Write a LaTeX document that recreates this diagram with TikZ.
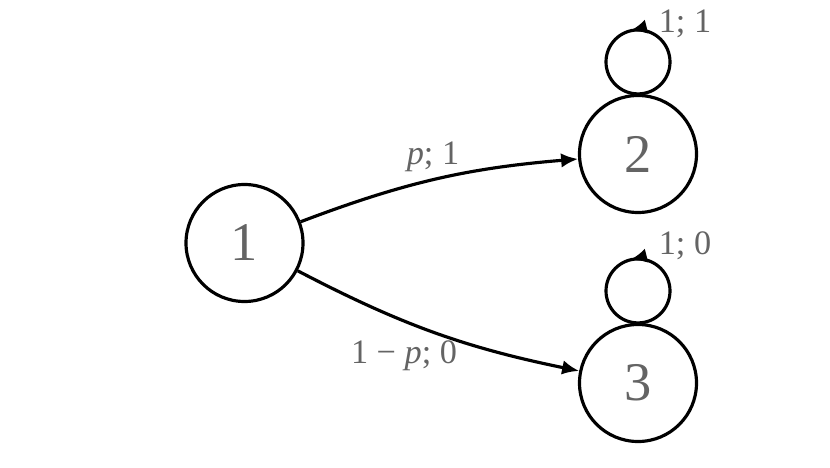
\documentclass[tikz,border=0pt]{standalone}
\usepackage{fontspec}
\setmainfont{Liberation Serif}
\usepackage{xcolor}
\usepackage{tikz}
\usetikzlibrary{arrows.meta,decorations.markings}
\definecolor{txtgray}{RGB}{100,100,100}
\begin{document}
\begin{tikzpicture}[
    state/.style={draw,circle,line width=1.8pt,minimum size=2.34cm,inner sep=0pt,
        text=txtgray,font=\fontsize{31}{31}\selectfont},
    lbl/.style={text=txtgray,font=\fontsize{19.5}{20}\selectfont},
    tr/.style={line width=1.8pt,-{Latex[length=3.4mm,width=2.9mm]}},
    selfloop/.style={line width=1.8pt,decoration={markings,
        mark=at position 0.54 with {\arrow{Latex[length=3.4mm,width=2.9mm]}}},postaction={decorate}}]
                \useasboundingbox (0,0) rectangle (16.6,9.34);
                % states
                \node[state] (s1) at (4.89,4.48) {1};
                \node[state] (s2) at (12.76,6.26) {2};
                \node[state] (s3) at (12.76,1.68) {3};
                
                % transitions
                \draw[tr] (s1) to[bend left=8] (s2);
                \draw[tr] (s1) to[bend right=8] (s3);
                \draw[selfloop] (s2.north) arc[start angle=-90,end angle=270,radius=0.64];
                \draw[selfloop] (s3.north) arc[start angle=-90,end angle=270,radius=0.64];
                
                \node[lbl] (l12) at (8.66,6.20) {\textit{p}; 1};
                \node[lbl] (l13) at (8.08,2.22) {1 − \textit{p}; 0};
                \node[lbl] (l22) at (13.70,8.86) {1; 1};
                \node[lbl] (l33) at (13.70,4.42) {1; 0};
            \end{tikzpicture}
\end{document}
